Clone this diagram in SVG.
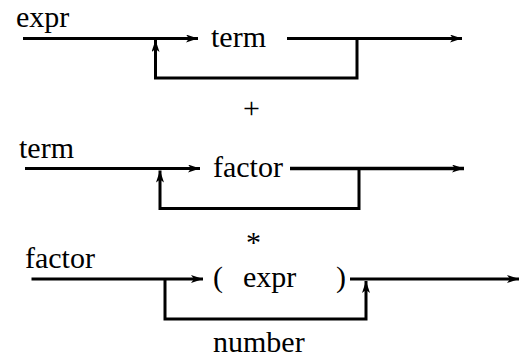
<svg xmlns="http://www.w3.org/2000/svg" width="519" height="358" viewBox="0 0 519 358">
  <defs>
    <marker id="arr" viewBox="0 0 12 8" refX="12" refY="4" markerWidth="12" markerHeight="8" markerUnits="userSpaceOnUse" orient="auto">
      <path d="M0,0 L12,4 L0,8 L3,4 Z" fill="#000"/>
    </marker>
  </defs>

  <!-- rule: expr -->
  <g id="rule-expr">
    <text x="16" y="27" font-family="Liberation Serif" font-size="30">expr</text>
  </g>
  <g id="node-term1">
    <text x="211" y="47" font-family="Liberation Serif" font-size="30">term</text>
  </g>
  <g id="sep-plus">
    <text x="243" y="118" font-family="Liberation Serif" font-size="30">+</text>
  </g>

  <!-- rule: term -->
  <g id="rule-term">
    <text x="19" y="158" font-family="Liberation Serif" font-size="30">term</text>
  </g>
  <g id="node-factor1">
    <text x="213" y="177" font-family="Liberation Serif" font-size="30">factor</text>
  </g>
  <g id="sep-star">
    <text x="246" y="252" font-family="Liberation Serif" font-size="30">*</text>
  </g>

  <!-- rule: factor -->
  <g id="rule-factor">
    <text x="25" y="268" font-family="Liberation Serif" font-size="30">factor</text>
  </g>
  <g id="node-paren-expr">
    <text y="287" font-family="Liberation Serif" font-size="30"><tspan x="213">(</tspan><tspan x="243">expr</tspan><tspan x="336">)</tspan></text>
  </g>
  <g id="node-number">
    <text x="213" y="352" font-family="Liberation Serif" font-size="30">number</text>
  </g>

  <!-- all connectors share one stroke style set on this group -->
  <g id="connectors" fill="none" stroke="#000" stroke-width="3">
    <!-- expr -->
    <path d="M23,38.5 H198" marker-end="url(#arr)"/>
    <path d="M287,38.5 H462" marker-end="url(#arr)"/>
    <path d="M357,38.5 V78 H155.5 V40" marker-end="url(#arr)"/>
    <!-- term -->
    <path d="M25,168.5 H200" marker-end="url(#arr)"/>
    <path d="M290,168.5 H464" stroke-width="3.5" marker-end="url(#arr)"/>
    <path d="M359,168.5 V208.5 H160 V170.5" marker-end="url(#arr)"/>
    <!-- factor -->
    <path d="M31.5,279 H203" marker-end="url(#arr)"/>
    <path d="M165,279 V319 H366 V281" marker-end="url(#arr)"/>
    <path d="M350,279 H519" marker-end="url(#arr)"/>
  </g>
</svg>
